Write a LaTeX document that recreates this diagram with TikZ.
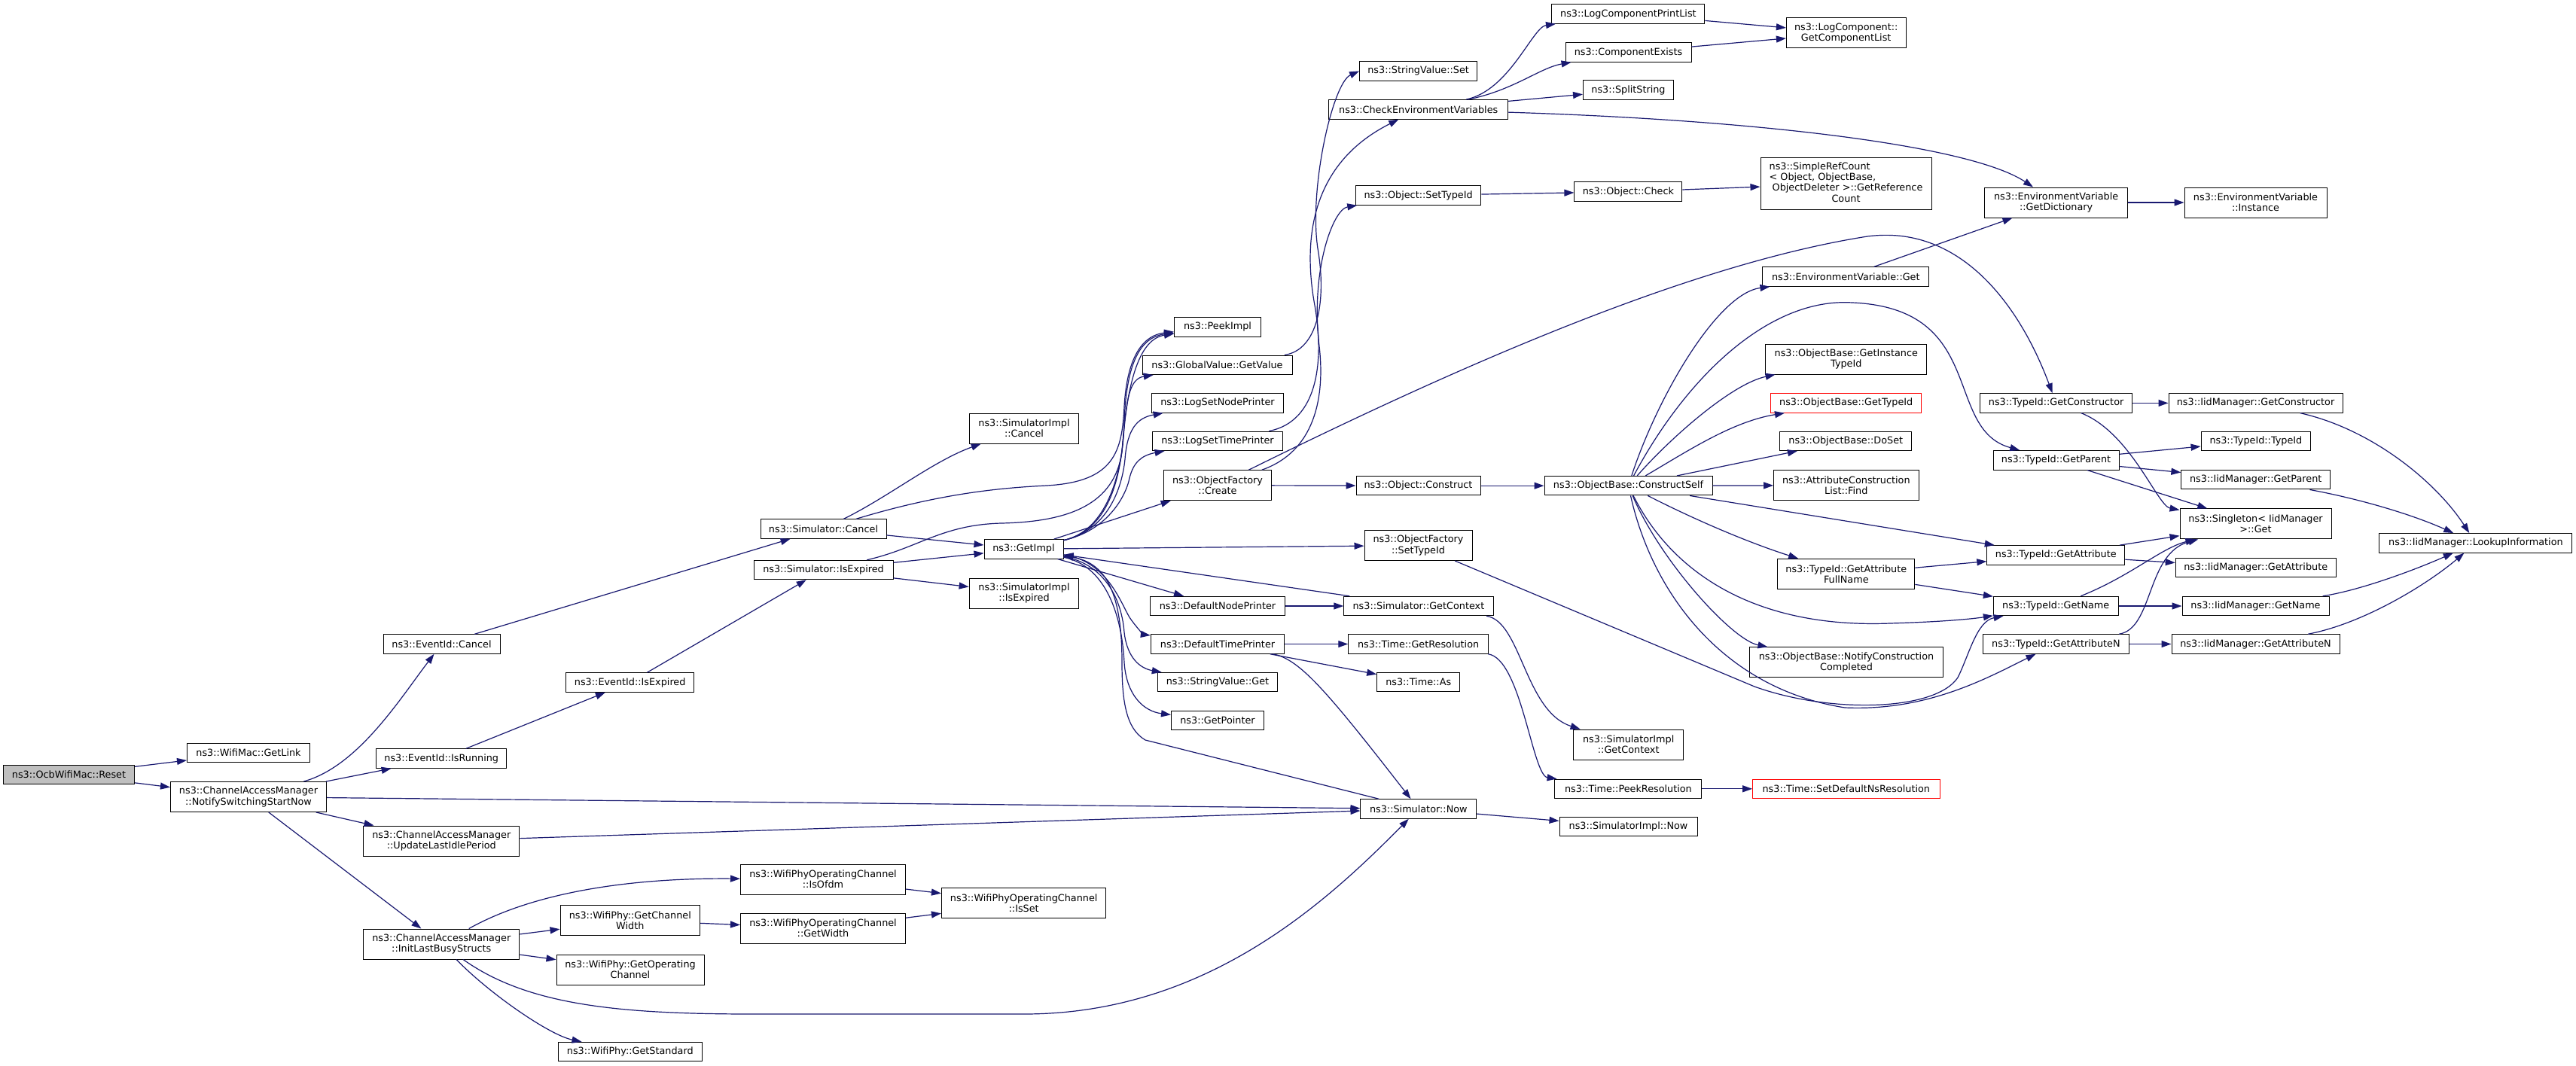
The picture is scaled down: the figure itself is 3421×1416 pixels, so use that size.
\documentclass[tikz,border=0pt]{standalone}
\usepackage{fontspec}
\setmainfont{DejaVu Sans}
\usepackage{tikz}
\usetikzlibrary{arrows.meta}
\definecolor{edgeblue}{HTML}{191970}
\newcommand{\fnfont}{\fontsize{12.8}{14.3}\selectfont}
\tikzset{basic/.style={draw=black,fill=white,inner sep=0pt,line width=1pt,
                       align=center,font=\fnfont,minimum height=25.5pt}}
\tikzset{func/.style={basic,rectangle}}

\begin{document}
\begin{tikzpicture}[x=1pt, y=-1pt, ->, >={Triangle[length=13pt,width=9pt]},
                    draw=edgeblue, line width=1.2pt]
    \tikzstyle{func2}=[func,minimum height=40pt]
    \tikzstyle{root}=[func,fill=black!25]
    \tikzstyle{undoc}=[func,draw=red]
    \useasboundingbox (0,0) rectangle (3421,1416);

    % The function that is graphed
    \node[root,minimum width=174] (reset) at (91.5,1029) {ns3::OcbWifiMac::Reset};

    % Draw the single-line function nodes
    \foreach \name/\x/\y/\w/\txt in {
        getlink/330/1000/163/{ns3::WifiMac::GetLink},
        evcancel/586.5/855.5/155/{ns3::EventId::Cancel},
        evrunning/586.2/1007.5/173/{ns3::EventId::IsRunning},
        evexpired/836.7/906.5/170.5/{ns3::EventId::IsExpired},
        standard/836.8/1397/191.6/{ns3::WifiPhy::GetStandard},
        simcancel/1093.5/702.5/167/{ns3::Simulator::Cancel},
        simexpired/1093.5/757/185/{ns3::Simulator::IsExpired},
        getimpl/1359.5/729.3/105/{ns3::GetImpl},
        peekimpl/1617/434.4/115/{ns3::PeekImpl},
        getvalue/1616.5/484.8/199/{ns3::GlobalValue::GetValue},
        lognode/1617/535.4/175/{ns3::LogSetNodePrinter},
        logtime/1617/585.8/173/{ns3::LogSetTimePrinter},
        defnode/1617/805/179/{ns3::DefaultNodePrinter},
        deftime/1617/855.5/177.4/{ns3::DefaultTimePrinter},
        strget/1617/906.2/158.6/{ns3::StringValue::Get},
        getpointer/1617/957.2/123/{ns3::GetPointer},
        strset/1883.6/94.4/156/{ns3::StringValue::Set},
        checkenv/1883.7/145.4/237.5/{ns3::CheckEnvironmentVariables},
        objsettypeid/1883.6/259.5/166.3/{ns3::Object::SetTypeId},
        construct/1883.5/645.2/165/{ns3::Object::Construct},
        getcontext/1883.9/805/198.3/{ns3::Simulator::GetContext},
        getres/1883.6/855.5/185.7/{ns3::Time::GetResolution},
        timeas/1883.7/906.2/110/{ns3::Time::As},
        simnow/1883.8/1074.5/153.7/{ns3::Simulator::Now},
        printlist/2162.4/18.5/203/{ns3::LogComponentPrintList},
        compexists/2162.5/69.5/167/{ns3::ComponentExists},
        splitstring/2162.5/119.7/120/{ns3::SplitString},
        objcheck/2162.4/254.7/143/{ns3::Object::Check},
        constructself/2162.5/645.2/223/{ns3::ObjectBase::ConstructSelf},
        peekres/2162.4/1047.8/195/{ns3::Time::PeekResolution},
        simimplnow/2162.5/1098.2/183/{ns3::SimulatorImpl::Now},
        envget/2451.3/367.5/220.7/{ns3::EnvironmentVariable::Get},
        doset/2451.3/585.8/175/{ns3::ObjectBase::DoSet},
        getconstructor/2730.6/535.4/202/{ns3::TypeId::GetConstructor},
        getparent/2730.5/611.3/167/{ns3::TypeId::GetParent},
        getattribute/2730.3/737.4/183/{ns3::TypeId::GetAttribute},
        getname/2730.2/805/165.6/{ns3::TypeId::GetName},
        getattrn/2730.4/855.5/193.3/{ns3::TypeId::GetAttributeN},
        iidconstructor/2995.5/535.4/231/{ns3::IidManager::GetConstructor},
        typeidtypeid/2995.9/586/145.7/{ns3::TypeId::TypeId},
        iidparent/2995.7/637.2/197.7/{ns3::IidManager::GetParent},
        iidattribute/2995.7/754.2/213/{ns3::IidManager::GetAttribute},
        iidname/2995.5/805/195/{ns3::IidManager::GetName},
        iidattrn/2995.5/855.5/223/{ns3::IidManager::GetAttributeN},
        lookup/3287.9/721.3/256/{ns3::IidManager::LookupInformation}}
        \node[func,minimum width=\w] (\name) at (\x,\y) {\txt};

    % Functions without documentation get a red border
    \foreach \name/\x/\y/\w/\txt in {
        obgettypeid/2451.7/535.4/200.5/{ns3::ObjectBase::GetTypeId},
        setdefres/2451.8/1047.8/248.4/{ns3::Time::SetDefaultNsResolution}}
        \node[undoc,minimum width=\w] (\name) at (\x,\y) {\txt};

    % Draw the two-line function nodes
    \foreach \name/\x/\y/\w/\txt in {
        notify/330/1058.5/207/{ns3::ChannelAccessManager\\::NotifySwitchingStartNow},
        update/586.3/1117/207/{ns3::ChannelAccessManager\\::UpdateLastIdlePeriod},
        initbusy/586.3/1254/207/{ns3::ChannelAccessManager\\::InitLastBusyStructs},
        isofdm/1093/1168/219/{ns3::WifiPhyOperatingChannel\\::IsOfdm},
        chwidth/836.8/1222.5/185.6/{ns3::WifiPhy::GetChannel\\Width},
        getwidth/1093/1233/219/{ns3::WifiPhyOperatingChannel\\::GetWidth},
        opchannel/837/1288/196/{ns3::WifiPhy::GetOperating\\Channel},
        simimplcancel/1360/569/145.7/{ns3::SimulatorImpl\\::Cancel},
        simimplexpired/1360/788/145.7/{ns3::SimulatorImpl\\::IsExpired},
        isset/1359.7/1199.6/218.5/{ns3::WifiPhyOperatingChannel\\::IsSet},
        ofcreate/1617/644.7/143/{ns3::ObjectFactory\\::Create},
        ofsettypeid/1883.5/724.5/143/{ns3::ObjectFactory\\::SetTypeId},
        complist/2451.7/43.9/158.6/{ns3::LogComponent::\\GetComponentList},
        getdict/2730.6/269/190/{ns3::EnvironmentVariable\\::GetDictionary},
        instance/2995.5/269/189/{ns3::EnvironmentVariable\\::Instance},
        instancetypeid/2451.8/477/213.7/{ns3::ObjectBase::GetInstance\\TypeId},
        acfind/2451.8/644.7/192.4/{ns3::AttributeConstruction\\List::Find},
        singleton/2995.5/695.9/201/{ns3::Singleton< IidManager\\>::Get},
        fullname/2451.8/762.4/182/{ns3::TypeId::GetAttribute\\FullName},
        notifycc/2452/879.8/257/{ns3::ObjectBase::NotifyConstruction\\Completed},
        simimplcontext/2162.7/989/146/{ns3::SimulatorImpl\\::GetContext}}
        \node[func2,minimum width=\w] (\name) at (\x,\y) {\txt};

    \node[func,minimum width=227,minimum height=69.6] (refcount) at (2451.5,243.8)
        {\begin{tabular}{@{}l@{}}ns3::SimpleRefCount\\< Object, ObjectBase,\\
         \ ObjectDeleter >::GetReference\\\multicolumn{1}{@{}c@{}}{Count}\end{tabular}};

    % Straight calls
    \foreach \source/\dest in {reset/getlink, reset/notify, notify/evrunning,
        notify/simnow, notify/update, notify/initbusy, evcancel/simcancel,
        evrunning/evexpired, evexpired/simexpired, update/simnow,
        initbusy/chwidth, initbusy/opchannel, chwidth/getwidth, isofdm/isset,
        getwidth/isset, simcancel/getimpl, simexpired/getimpl,
        simexpired/simimplexpired, getimpl/ofcreate, getimpl/ofsettypeid,
        getimpl/defnode, getcontext/getimpl, defnode/getcontext, deftime/getres,
        deftime/timeas, simnow/simimplnow, peekres/setdefres, ofcreate/construct,
        objsettypeid/objcheck, objcheck/refcount, construct/constructself,
        checkenv/splitstring, printlist/complist, compexists/complist,
        envget/getdict, getdict/instance, constructself/doset,
        constructself/acfind, constructself/getattribute, fullname/getattribute,
        fullname/getname, getconstructor/iidconstructor, getparent/typeidtypeid,
        getparent/iidparent, getparent/singleton, getattribute/singleton,
        getattribute/iidattribute, getname/iidname, getattrn/iidattrn}
        \path (\source) edge (\dest);

    % Curved calls on the left
    \draw (notify) .. controls (475,1018) and (530,930) .. (evcancel);
    \draw (initbusy) .. controls (700,1190) and (820,1166) .. (isofdm);
    \draw (initbusy) .. controls (650,1320) and (730,1375) .. (standard);
    \draw (initbusy) .. controls (700,1335) and (820,1347) .. (1000,1347) -- (1360,1347)
        .. controls (1600,1347) and (1760,1200) .. (simnow);
    \draw (simcancel) .. controls (1180,660) and (1240,612) .. (simimplcancel);
    \draw (simcancel) .. controls (1250,655) and (1330,648) .. (1390,645)
        .. controls (1480,640) and (1490,600) .. (1493,540)
        .. controls (1497,470) and (1520,445) .. (peekimpl);
    \draw (simexpired) .. controls (1220,728) and (1250,697) .. (1330,695)
        .. controls (1420,693) and (1480,670) .. (1490,600)
        .. controls (1497,500) and (1515,450) .. (peekimpl);

    % Calls made by GetImpl
    \draw (getimpl) .. controls (1470,705) and (1490,640) .. (1493,560)
        .. controls (1496,480) and (1515,448) .. (peekimpl);
    \draw (getimpl) .. controls (1470,705) and (1488,630) .. (1492,580)
        .. controls (1496,530) and (1500,503) .. (getvalue);
    \draw (getimpl) .. controls (1470,705) and (1490,650) .. (1494,610)
        .. controls (1497,570) and (1510,555) .. (lognode);
    \draw (getimpl) .. controls (1470,705) and (1495,660) .. (1500,635)
        .. controls (1505,615) and (1515,605) .. (logtime);
    \draw (getimpl) .. controls (1470,745) and (1488,800) .. (1500,820)
        .. controls (1510,835) and (1520,843) .. (deftime);
    \draw (getimpl) .. controls (1470,750) and (1490,800) .. (1493,840)
        .. controls (1497,875) and (1515,888) .. (strget);
    \draw (getimpl) .. controls (1470,752) and (1490,820) .. (1493,880)
        .. controls (1496,925) and (1520,945) .. (getpointer);
    \draw (simnow) -- (1521,983) .. controls (1495,968) and (1490,930) .. (1490,880)
        .. controls (1490,790) and (1470,748) .. (getimpl);
    \draw (deftime) .. controls (1725,875) and (1760,915) .. (simnow);
    \draw (getcontext) .. controls (2020,825) and (2025,945) .. (simimplcontext);
    \draw (getres) .. controls (2020,875) and (2035,1030) .. (peekres);

    % Calls in the middle
    \draw (ofcreate) .. controls (1745,600) and (1760,530) .. (1752,460)
        .. controls (1740,360) and (1770,278) .. (objsettypeid);
    \draw (ofcreate) .. controls (1950,480) and (2250,350) .. (2480,314)
        .. controls (2600,298) and (2680,400) .. (getconstructor);
    \draw (getvalue) .. controls (1750,465) and (1762,400) .. (1750,330)
        .. controls (1738,250) and (1770,110) .. (strset.west);
    \draw (logtime) .. controls (1750,560) and (1760,480) .. (1745,400)
        .. controls (1730,310) and (1745,215) .. (checkenv);
    \draw (checkenv) .. controls (2005,120) and (2035,36) .. (printlist);
    \draw (checkenv) .. controls (2010,120) and (2045,90) .. (compexists);
    \draw (checkenv) .. controls (2350,160) and (2620,195) .. (getdict);

    % Calls made by ConstructSelf
    \draw (constructself) .. controls (2200,530) and (2280,390) .. (envget);
    \draw (constructself) .. controls (2240,500) and (2350,395) .. (2460,402)
        .. controls (2640,410) and (2580,570) .. (getparent);
    \draw (constructself) .. controls (2220,580) and (2300,510) .. (instancetypeid);
    \draw (constructself) .. controls (2240,600) and (2300,560) .. (obgettypeid);
    \draw (constructself) .. controls (2250,690) and (2320,720) .. (fullname);
    \draw (constructself) .. controls (2220,760) and (2330,835) .. (2510,828)
        .. controls (2580,826) and (2620,822) .. (getname);
    \draw (constructself) .. controls (2205,745) and (2300,850) .. (notifycc);
    \draw (constructself) .. controls (2195,790) and (2290,915) .. (2450,940)
        .. controls (2560,945) and (2640,900) .. (getattrn);
    \draw (ofsettypeid) -- (2330,912) .. controls (2430,948) and (2570,945) .. (2600,900)
        .. controls (2615,870) and (2625,825) .. (getname);

    % Calls on the right
    \draw (getconstructor) .. controls (2830,575) and (2865,672) .. (singleton);
    \draw (getname) .. controls (2830,765) and (2870,728) .. (singleton);
    \draw (getattrn) .. controls (2860,835) and (2850,735) .. (singleton);
    \draw (iidconstructor) .. controls (3150,570) and (3235,640) .. (lookup);
    \draw (iidparent) .. controls (3130,662) and (3200,682) .. (lookup);
    \draw (iidname) .. controls (3130,785) and (3200,760) .. (lookup);
    \draw (iidattrn) .. controls (3140,828) and (3225,775) .. (lookup);
\end{tikzpicture}
\end{document}
